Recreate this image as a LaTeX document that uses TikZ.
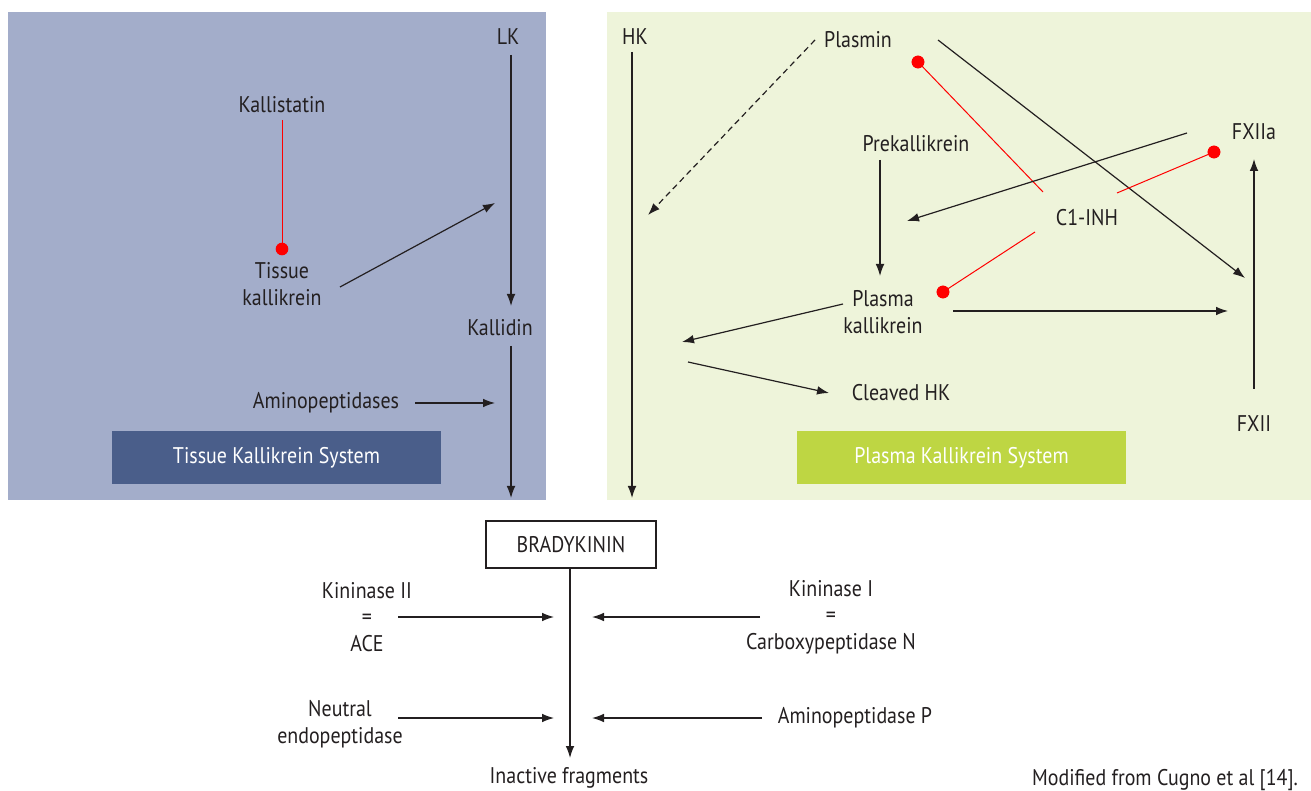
\documentclass[tikz,border=0pt]{standalone}
\usepackage{fontspec}
\setmainfont{PT Sans}[FakeStretch=0.88]
\usetikzlibrary{arrows.meta}
\definecolor{bluepanel}{RGB}{163,173,202}
\definecolor{greenpanel}{RGB}{238,244,218}
\definecolor{bluebox}{RGB}{74,94,138}
\definecolor{greenbox}{RGB}{190,214,67}
\definecolor{txt}{RGB}{35,31,32}
\definecolor{inhib}{RGB}{255,0,0}
\begin{document}
\begin{tikzpicture}[x=0.75pt,y=-0.75pt,
  lbl/.style={font=\fontsize{17}{20}\selectfont, text=txt, inner sep=0pt, align=center},
  arr/.style={draw=txt, line width=0.9pt, -{Latex[length=9pt,width=6.5pt]}},
  inh/.style={draw=inhib, line width=0.75pt},
  dot/.style={circle, fill=inhib, inner sep=0pt, minimum size=9.5pt},
  sysbox/.style={minimum width=246.75pt, minimum height=39.75pt, inner sep=0pt, text=white, font=\fontsize{17}{20}\selectfont}
]
\useasboundingbox (0,0) rectangle (1311,791);
\fill[bluepanel] (8,12) rectangle (546,500);
\fill[greenpanel] (607,12) rectangle (1311,500);
\node[sysbox, fill=bluebox] (tks) at (276.5,457.5) {Tissue Kallikrein System};
\node[sysbox, fill=greenbox] (pks) at (961.5,457.5) {Plasma Kallikrein System};

% Tissue kallikrein system
\node[lbl] (lk) at (508,37) {LK};
\node[lbl] (kallidin) at (500,328) {Kallidin};
\node[lbl] (kallistatin) at (282,105) {Kallistatin};
\node[lbl] (tk) at (282,284) {Tissue\\kallikrein};
\node[lbl] (aminop) at (326,403) {Aminopeptidases};
\node[dot] (d1) at (282,249) {};
\coordinate (lk-s) at (511,55);
\coordinate (lk-e) at (511,306);
\coordinate (kd-s) at (511,346);
\coordinate (kd-e) at (511,498);
\coordinate (tk-s) at (340,287);
\coordinate (tk-e) at (495,203);
\coordinate (ks-s) at (282,120);
\coordinate (ap-s) at (415,403);
\coordinate (ap-e) at (495,403);
\draw[arr] (lk-s) -- (lk-e);
\draw[arr] (kd-s) -- (kd-e);
\draw[arr] (tk-s) -- (tk-e);
\draw[arr] (ap-s) -- (ap-e);
\draw[inh] (ks-s) -- (d1.center);

% Plasma kallikrein system
\node[lbl] (hk) at (635,37) {HK};
\node[lbl] (plasmin) at (858,40) {Plasmin};
\node[lbl] (prek) at (916,144) {Prekallikrein};
\node[lbl] (fxiia) at (1254,132) {FXIIa};
\node[lbl] (c1) at (1087,218) {C1-INH};
\node[lbl] (pk) at (883,312) {Plasma\\kallikrein};
\node[lbl] (fxii) at (1254,424) {FXII};
\node[lbl] (chk) at (901,393) {Cleaved HK};
\node[dot] (d2) at (918,62) {};
\node[dot] (d3) at (1214,152) {};
\node[dot] (d4) at (943,292) {};
\coordinate (hk-s) at (632,52);
\coordinate (hk-e) at (632,498);
\coordinate (pl-d) at (815,40);
\coordinate (hk-t) at (648,215);
\coordinate (pl-s) at (938,40);
\coordinate (fx-t) at (1245,278);
\coordinate (c1-a) at (1043,192);
\coordinate (c1-b) at (1117,193);
\coordinate (c1-c) at (1035,232);
\coordinate (pre-s) at (880,160);
\coordinate (pre-e) at (880,276);
\coordinate (fa-s) at (1187,133);
\coordinate (fa-e) at (907,221);
\coordinate (pk-s) at (953,311);
\coordinate (pk-e) at (1228,311);
\coordinate (fxii-s) at (1254,389);
\coordinate (fxii-e) at (1254,159);
\coordinate (pk-l) at (843,304);
\coordinate (hkc) at (682,342);
\coordinate (hkc-s) at (688,362);
\coordinate (chk-e) at (829,393);
\draw[arr] (hk-s) -- (hk-e);
\draw[arr, dash pattern=on 4.5pt off 3pt] (pl-d) -- (hk-t);
\draw[arr] (pl-s) -- (fx-t);
\draw[inh] (d2.center) -- (c1-a);
\draw[inh] (d3.center) -- (c1-b);
\draw[inh] (c1-c) -- (d4.center);
\node[dot] at (d2) {};
\node[dot] at (d3) {};
\node[dot] at (d4) {};
\draw[arr] (pre-s) -- (pre-e);
\draw[arr] (fa-s) -- (fa-e);
\draw[arr] (pk-s) -- (pk-e);
\draw[arr] (fxii-s) -- (fxii-e);
\draw[arr] (pk-l) -- (hkc);
\draw[arr] (hkc-s) -- (chk-e);

% Bradykinin
\node[lbl, draw=txt, line width=1.6pt, minimum width=127.5pt, minimum height=35.5pt] (bk) at (571,544.5) {BRADYKININ};
\node[lbl] (k2) at (367,617) {Kininase II\\=\\ACE};
\node[lbl] (k1) at (831,617) {Kininase I\\=\\Carboxypeptidase N};
\node[lbl] (nep) at (340,724) {Neutral\\endopeptidase};
\node[lbl] (app) at (855,718) {Aminopeptidase P};
\node[lbl] (inact) at (569,778) {Inactive fragments};
\node[lbl, anchor=base] (src) at (1165,785) {Modified from Cugno et al [14].};
\coordinate (bk-e) at (570,758);
\coordinate (k2-s) at (398,617);
\coordinate (k2-e) at (554,617);
\coordinate (k1-s) at (760,617);
\coordinate (k1-e) at (592,617);
\coordinate (nep-s) at (398,718);
\coordinate (nep-e) at (554,718);
\coordinate (app-s) at (762,718);
\coordinate (app-e) at (592,718);
\draw[arr] (bk.south -| bk-e) -- (bk-e);
\draw[arr] (k2-s) -- (k2-e);
\draw[arr] (k1-s) -- (k1-e);
\draw[arr] (nep-s) -- (nep-e);
\draw[arr] (app-s) -- (app-e);
\end{tikzpicture}
\end{document}
